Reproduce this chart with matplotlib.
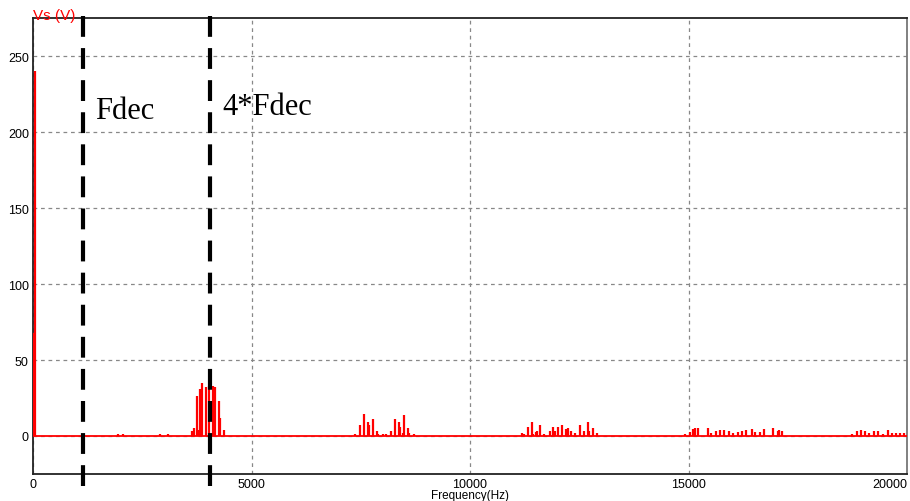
import numpy as np
import matplotlib.pyplot as plt

# Spectrum lines (frequency in Hz, amplitude in V)
dc_freq = [0, 50]
dc_amp = [68, 240]

low_freq = [1950, 2060, 2900, 3100]
low_amp = [1, 1, 1, 1]

c1_freq = [3647, 3677, 3754, 3790, 3830, 3870, 3960, 4030, 4117, 4174, 4254, 4290, 4365]
c1_amp = [3, 5, 26, 4, 31, 35, 32, 33, 33, 32, 23, 12, 4]

c2_freq = [7378, 7484, 7585, 7676, 7699, 7791, 7878, 7900, 8004, 8089, 8188, 8287, 8378, 8400, 8460, 8501, 8585, 8610, 8708]
c2_amp = [1, 7, 14.5, 9, 7, 11, 3.5, 1, 1.5, 1.5, 3, 11, 9, 6, 2, 14, 5.5, 2, 1]

c3_freq = [11193, 11240, 11322, 11414, 11450, 11500, 11537, 11613, 11700, 11820, 11904, 11935, 12025, 12110, 12202, 12232,
           12317, 12408, 12523, 12615, 12699, 12730, 12821, 12906]
c3_amp = [2, 1.5, 6, 9.5, 1.5, 2.5, 3, 7, 1.5, 3.5, 6, 3, 6, 7, 4.5, 5, 3.5, 2, 7, 3, 9, 3.5, 5, 2]

c4_freq = [14931, 15023, 15107, 15144, 15222, 15436, 15511, 15626, 15718, 15819, 15933, 16025, 16140, 16216, 16315,
           16445, 16521, 16636, 16737, 16942, 17041, 17070, 17148]
c4_amp = [1.5, 2.5, 4.5, 5, 5, 5, 2, 3, 4, 4, 3, 2, 2.5, 3, 4, 4.5, 2.5, 2.5, 4.5, 5, 3, 4, 3]

c5_freq = [18739, 18846, 18945, 19030, 19135, 19243, 19335, 19442, 19557, 19649, 19754, 19846, 19938]
c5_amp = [1, 3, 4, 3, 2, 3, 3, 1.5, 4, 2, 2, 2, 2]

fdec = 1147
fdec4 = 4060

freq = np.array(dc_freq + low_freq + c1_freq + c2_freq + c3_freq + c4_freq + c5_freq)
amp = np.array(dc_amp + low_amp + c1_amp + c2_amp + c3_amp + c4_amp + c5_amp)

fig = plt.figure(figsize=(9.1, 5.02), dpi=100)
ax = fig.add_axes([33/910, 27/502, 874/910, 456/502])

ax.set_xlim(0, 20000)
ax.set_ylim(-25, 275)

ax.set_xticks([0, 5000, 10000, 15000, 20000])
ax.set_yticks([0, 50, 100, 150, 200, 250])
ax.grid(True, color='#888888', linestyle=(0, (3, 3)), linewidth=0.9)
ax.tick_params(length=0, labelsize=9, pad=3)
for lab in ax.get_xticklabels() + ax.get_yticklabels():
    lab.set_family('Liberation Sans')
ax.get_xticklabels()[-1].set_ha('right')
ax.get_xticklabels()[-1].set_x(20000)

for s in ax.spines.values():
    s.set_color('#222222')
    s.set_linewidth(1.3)
ax.spines['right'].set_color('#777777')

# red spectrum
ax.axhline(0, color='red', linewidth=1.3, zorder=3)
ax.vlines(freq, 0, amp, color='red', linewidth=1.6, zorder=3)
ax.vlines([0], 0, [68], color='red', linewidth=3, zorder=3)

# Fdec markers
for f in [fdec, fdec4]:
    ax.axvline(f, ymin=-0.027, ymax=1.02, color='black', linewidth=3,
               linestyle=(0, (5, 2.7)), clip_on=False, zorder=4)

ax.text(1422, 214, 'Fdec', family='Liberation Serif', fontsize=22, va='center', ha='left')
ax.text(4335, 217, '4*Fdec', family='Liberation Serif', fontsize=22, va='center', ha='left')

fig.text(33/910, 1 - 16/502, 'Vs (V)', color='red', fontsize=11, family='Liberation Sans',
         va='center', ha='left')
fig.text(470/910, 1 - 496/502, 'Frequency(Hz)', fontsize=8.5, family='Liberation Sans',
         va='center', ha='center')

fig.savefig('out.png', dpi=100)
